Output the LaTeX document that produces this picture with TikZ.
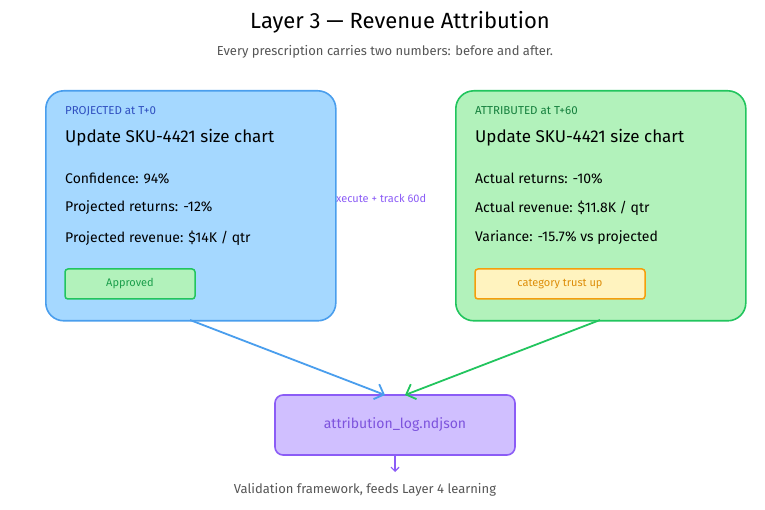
\documentclass[tikz,border=0pt]{standalone}
\usepackage{fontspec}
\setmainfont{Fira Sans}
\usetikzlibrary{arrows.meta}
\definecolor{bfill}{HTML}{A5D8FF}\definecolor{bline}{HTML}{4A9EED}
\definecolor{gfill}{HTML}{B2F2BB}\definecolor{gline}{HTML}{22C55E}
\definecolor{vfill}{HTML}{D0BFFF}\definecolor{vline}{HTML}{8B5CF6}
\definecolor{yfill}{HTML}{FFF3BF}\definecolor{yline}{HTML}{F59E0B}
\definecolor{bhead}{HTML}{2F4FC0}\definecolor{ghead}{HTML}{15803D}
\definecolor{greytxt}{HTML}{555555}
\begin{document}
\begin{tikzpicture}[x=1pt,y=-1pt,
  card/.style={draw,line width=1.6pt,rounded corners=18pt,anchor=north west},
  txt/.style={anchor=west,inner sep=0pt,font=\fontsize{14}{16}\selectfont},
  tag/.style={draw,line width=1.5pt,rounded corners=3pt,minimum height=30pt,font=\fontsize{11}{13}\selectfont},
  conn/.style={line width=1.8pt,-{Straight Barb[length=8pt,width=16pt]}}]
\useasboundingbox (0,0) rectangle (765,510);
\node[font=\fontsize{22}{26}\selectfont] (title) at (400,22) {Layer 3 — Revenue Attribution};
\node[font=\fontsize{13}{15}\selectfont,text=greytxt] (sub) at (385,52) {Every prescription carries two numbers: before and after.};
\node[font=\fontsize{11}{13}\selectfont,text=vline,anchor=west,inner sep=0pt] (lbl) at (330,198) {execute + track 60d};
% blue card
\node[card,fill=bfill,draw=bline,minimum width=290pt,minimum height=230pt] (proj) at (45,90) {};
\node[txt,text=bhead,font=\fontsize{11.5}{13}\selectfont] (p1) at (65,111) {PROJECTED at T+0};
\node[txt,font=\fontsize{17}{19}\selectfont] (p2) at (65,138) {Update SKU-4421 size chart};
\node[txt] (p3) at (65,178) {Confidence: 94\%};
\node[txt] (p4) at (65,208) {Projected returns: -12\%};
\node[txt] (p5) at (65,238) {Projected revenue: \$14K / qtr};
\node[tag,fill=gfill,draw=gline,text=gline!80!black,minimum width=130pt] (ap) at (130,284) {Approved};
% green card
\node[card,fill=gfill,draw=gline,minimum width=290pt,minimum height=230pt] (attr) at (455,90) {};
\node[txt,text=ghead,font=\fontsize{11.5}{13}\selectfont] (a1) at (475,111) {ATTRIBUTED at T+60};
\node[txt,font=\fontsize{17}{19}\selectfont] (a2) at (475,138) {Update SKU-4421 size chart};
\node[txt] (a3) at (475,178) {Actual returns: -10\%};
\node[txt] (a4) at (475,208) {Actual revenue: \$11.8K / qtr};
\node[txt] (a5) at (475,238) {Variance: -15.7\% vs projected};
\node[tag,fill=yfill,draw=yline,text=yline!90!black,minimum width=170pt] (cat) at (560,284) {category trust up};
% log
\node[draw=vline,fill=vfill,line width=1.6pt,rounded corners=8pt,minimum width=240pt,minimum height=60pt,text=vline!90!black,font=\fontsize{14}{16}\selectfont] (log) at (395,425) {attribution\_log.ndjson};
\coordinate (bs) at (190,320);
\coordinate (gs) at (600,320);
\coordinate (bt) at (385,395);
\coordinate (gt) at (405,395);
\draw[conn,draw=bline] (bs) -- (bt);
\draw[conn,draw=gline] (gs) -- (gt);
\node[font=\fontsize{13}{15}\selectfont,text=greytxt] (foot) at (365,490) {Validation framework, feeds Layer 4 learning};
\coordinate (le) at (395,472);
\draw[vline,line width=1.2pt,-{Straight Barb[length=4pt,width=8pt]}] (log.south) -- (le);
\end{tikzpicture}
\end{document}
